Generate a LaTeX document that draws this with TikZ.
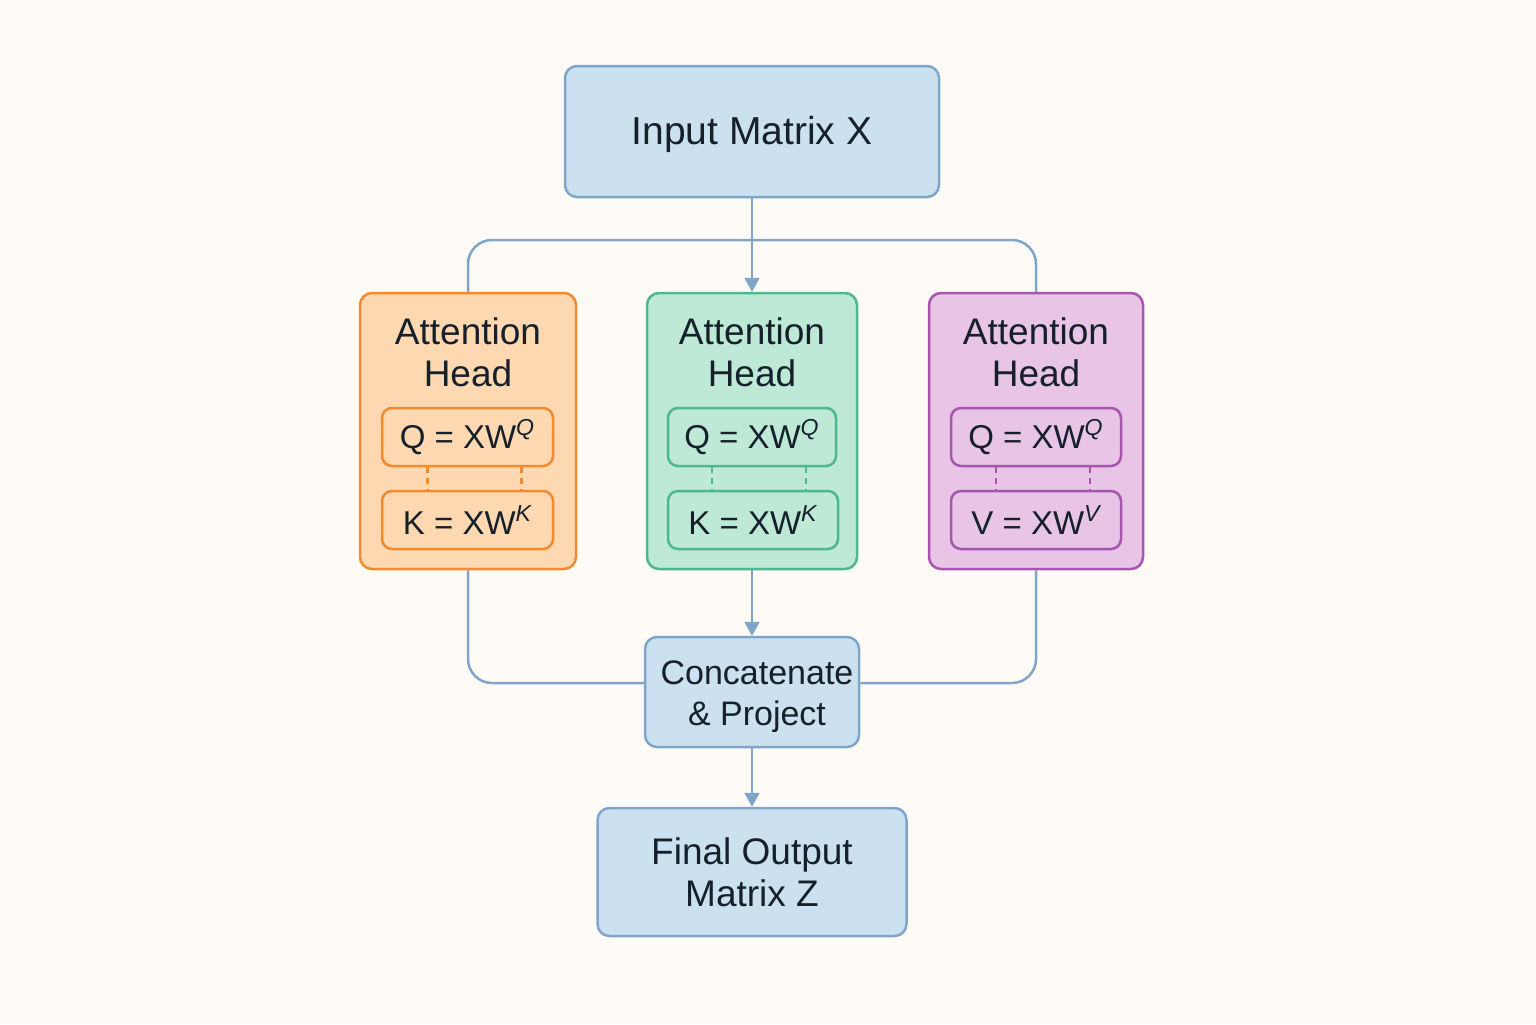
\documentclass[tikz,border=0pt]{standalone}
\usepackage{fontspec}
\setmainfont{Liberation Sans}
\usetikzlibrary{arrows.meta}

\definecolor{bgcol}{HTML}{FEFBF7}
\definecolor{ink}{HTML}{15202B}
\definecolor{bluefill}{HTML}{CCE1F0}
\definecolor{blueline}{HTML}{7FA6C9}
\definecolor{orafill}{HTML}{FDD8B0}
\definecolor{oraline}{HTML}{F28A30}
\definecolor{grnfill}{HTML}{BEE9D6}
\definecolor{grnline}{HTML}{4DB88F}
\definecolor{purfill}{HTML}{E8C4E6}
\definecolor{purline}{HTML}{A855B0}

\tikzset{
  box/.style={draw=blueline, fill=bluefill, line width=1.25pt, rounded corners=6pt,
    inner sep=0pt, align=center, text=ink},
  head/.style={draw=#1line, fill=#1fill, line width=1.25pt, rounded corners=6pt,
    inner sep=0pt, minimum height=138pt},
  sub/.style={draw=#1line, line width=1.25pt, rounded corners=5pt, inner sep=0pt,
    minimum height=29pt, text=ink, font=\fontsize{16.5}{20}\selectfont},
  title/.style={align=center, text=ink, font=\fontsize{18.5}{21}\selectfont},
  conn/.style={draw=blueline, line width=1.25pt},
  arr/.style={conn, -{Triangle[width=7.5pt,length=7pt]}},
  link/.style={draw=#1line, line width=1.2pt, dash pattern=on 3pt off 2.5pt}
}
\newcommand{\wsup}[1]{\textsuperscript{\itshape #1}}

\begin{document}
\begin{tikzpicture}[x=0.5pt, y=-0.5pt]
    % Canvas
    \fill[bgcol] (0,0) rectangle (1536,1024);
    \useasboundingbox (0,0) rectangle (1536,1024);

    % Input
    \node[box, minimum width=187pt, minimum height=65.5pt] (inp) at (752,131.5) {};
    \node[title, font=\fontsize{19.5}{22}\selectfont] (inpT) at (752,134) {Input Matrix X};

    % Heads
    \node[head=ora, minimum width=108pt] (hA) at (468,431) {};
    \node[head=grn, minimum width=105pt] (hB) at (752,431) {};
    \node[head=pur, minimum width=107pt] (hC) at (1036,431) {};

    \node[title] (tA) at (468,352) {Attention\\Head};
    \node[title] (tB) at (752,352) {Attention\\Head};
    \node[title] (tC) at (1036,352) {Attention\\Head};

    % Projections
    \node[sub=ora, minimum width=85.5pt] (qA) at (467.5,437) {Q = XW\wsup{Q}};
    \node[sub=ora, minimum width=85.5pt] (kA) at (467.5,520) {K = XW\wsup{K}};
    \node[sub=grn, minimum width=84pt] (qB) at (752,437) {Q = XW\wsup{Q}};
    \node[sub=grn, minimum width=85pt] (kB) at (753,520) {K = XW\wsup{K}};
    \node[sub=pur, minimum width=85pt] (qC) at (1036,437) {Q = XW\wsup{Q}};
    \node[sub=pur, minimum width=85pt] (vC) at (1036,520) {V = XW\wsup{V}};

    % Dashed links
    \foreach \q/\k/\c in {qA/kA/ora, qB/kB/grn, qC/vC/pur} {
      \draw[link=\c] ([xshift=-20pt]\q.south) -- ([xshift=-20pt]\q.south |- \k.north);
      \draw[link=\c] ([xshift=27pt]\q.south) -- ([xshift=27pt]\q.south |- \k.north);
    }

    % Concatenate and output
    \node[box, minimum width=107pt, minimum height=55pt] (cat) at (752,692) {};
    \node[title, font=\fontsize{17}{20.5}\selectfont] (catT) at (757,697) {Concatenate\\\& Project};
    \node[box, minimum width=154.5pt, minimum height=64pt,
      font=\fontsize{18.5}{21}\selectfont] (fin) at (752,872) {Final Output\\Matrix Z};

    % Connectors
    \coordinate (bus) at (752,240);
    \draw[conn, rounded corners=12pt] (hA.north) |- (bus) -| (hC.north);
    \draw[arr] (inp.south) -- (hB.north);
    \draw[conn, rounded corners=12pt] (hA.south) |- ([yshift=4.5pt]cat.west);
    \draw[conn, rounded corners=12pt] (hC.south) |- ([yshift=4.5pt]cat.east);
    \draw[arr] (hB.south) -- (cat.north);
    \draw[arr] (cat.south) -- (fin.north);
\end{tikzpicture}
\end{document}
